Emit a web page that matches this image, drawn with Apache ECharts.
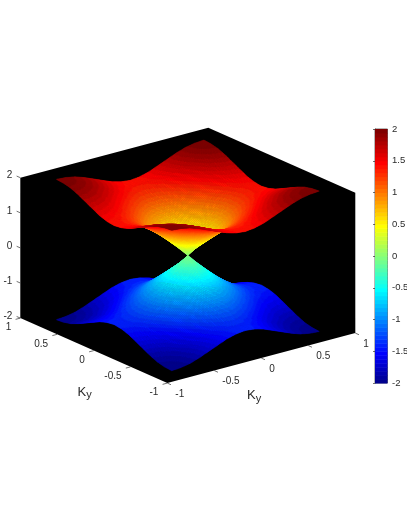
<!DOCTYPE html>
<html><head><meta charset="utf-8">
<style>html,body{margin:0;padding:0;background:#fff}#c{width:407px;height:527px;filter:blur(0.35px)}</style>
<script src="https://cdn.jsdelivr.net/npm/echarts@6/dist/echarts.min.js"></script>
</head><body><div id="c"></div>
<script>
const kGrid = [-0.785,-0.687,-0.589,-0.491,-0.393,-0.295,-0.196,-0.098,0,0.098,0.196,0.295,0.393,0.491,0.589,0.687,0.785];
const upperBand = [
[2,1.98,1.93,1.84,1.73,1.62,1.51,1.44,1.41,1.44,1.51,1.62,1.73,1.84,1.93,1.98,2],
[1.98,1.96,1.91,1.82,1.71,1.59,1.49,1.41,1.39,1.41,1.49,1.59,1.71,1.82,1.91,1.96,1.98],
[1.93,1.91,1.85,1.76,1.65,1.53,1.41,1.34,1.31,1.34,1.41,1.53,1.65,1.76,1.85,1.91,1.93],
[1.84,1.82,1.76,1.66,1.54,1.41,1.29,1.21,1.18,1.21,1.29,1.41,1.54,1.66,1.76,1.82,1.84],
[1.73,1.71,1.65,1.54,1.41,1.27,1.14,1.04,1,1.04,1.14,1.27,1.41,1.54,1.65,1.71,1.73],
[1.62,1.59,1.53,1.41,1.27,1.11,0.95,0.83,0.79,0.83,0.95,1.11,1.27,1.41,1.53,1.59,1.62],
[1.51,1.49,1.41,1.29,1.14,0.95,0.77,0.61,0.54,0.61,0.77,0.95,1.14,1.29,1.41,1.49,1.51],
[1.44,1.41,1.34,1.21,1.04,0.83,0.61,0.39,0.28,0.39,0.61,0.83,1.04,1.21,1.34,1.41,1.44],
[1.41,1.39,1.31,1.18,1,0.79,0.54,0.28,0,0.28,0.54,0.79,1,1.18,1.31,1.39,1.41],
[1.44,1.41,1.34,1.21,1.04,0.83,0.61,0.39,0.28,0.39,0.61,0.83,1.04,1.21,1.34,1.41,1.44],
[1.51,1.49,1.41,1.29,1.14,0.95,0.77,0.61,0.54,0.61,0.77,0.95,1.14,1.29,1.41,1.49,1.51],
[1.62,1.59,1.53,1.41,1.27,1.11,0.95,0.83,0.79,0.83,0.95,1.11,1.27,1.41,1.53,1.59,1.62],
[1.73,1.71,1.65,1.54,1.41,1.27,1.14,1.04,1,1.04,1.14,1.27,1.41,1.54,1.65,1.71,1.73],
[1.84,1.82,1.76,1.66,1.54,1.41,1.29,1.21,1.18,1.21,1.29,1.41,1.54,1.66,1.76,1.82,1.84],
[1.93,1.91,1.85,1.76,1.65,1.53,1.41,1.34,1.31,1.34,1.41,1.53,1.65,1.76,1.85,1.91,1.93],
[1.98,1.96,1.91,1.82,1.71,1.59,1.49,1.41,1.39,1.41,1.49,1.59,1.71,1.82,1.91,1.96,1.98],
[2,1.98,1.93,1.84,1.73,1.62,1.51,1.44,1.41,1.44,1.51,1.62,1.73,1.84,1.93,1.98,2]
];
const lowerBand = [
[-2,-1.98,-1.93,-1.84,-1.73,-1.62,-1.51,-1.44,-1.41,-1.44,-1.51,-1.62,-1.73,-1.84,-1.93,-1.98,-2],
[-1.98,-1.96,-1.91,-1.82,-1.71,-1.59,-1.49,-1.41,-1.39,-1.41,-1.49,-1.59,-1.71,-1.82,-1.91,-1.96,-1.98],
[-1.93,-1.91,-1.85,-1.76,-1.65,-1.53,-1.41,-1.34,-1.31,-1.34,-1.41,-1.53,-1.65,-1.76,-1.85,-1.91,-1.93],
[-1.84,-1.82,-1.76,-1.66,-1.54,-1.41,-1.29,-1.21,-1.18,-1.21,-1.29,-1.41,-1.54,-1.66,-1.76,-1.82,-1.84],
[-1.73,-1.71,-1.65,-1.54,-1.41,-1.27,-1.14,-1.04,-1,-1.04,-1.14,-1.27,-1.41,-1.54,-1.65,-1.71,-1.73],
[-1.62,-1.59,-1.53,-1.41,-1.27,-1.11,-0.95,-0.83,-0.79,-0.83,-0.95,-1.11,-1.27,-1.41,-1.53,-1.59,-1.62],
[-1.51,-1.49,-1.41,-1.29,-1.14,-0.95,-0.77,-0.61,-0.54,-0.61,-0.77,-0.95,-1.14,-1.29,-1.41,-1.49,-1.51],
[-1.44,-1.41,-1.34,-1.21,-1.04,-0.83,-0.61,-0.39,-0.28,-0.39,-0.61,-0.83,-1.04,-1.21,-1.34,-1.41,-1.44],
[-1.41,-1.39,-1.31,-1.18,-1,-0.79,-0.54,-0.28,0,-0.28,-0.54,-0.79,-1,-1.18,-1.31,-1.39,-1.41],
[-1.44,-1.41,-1.34,-1.21,-1.04,-0.83,-0.61,-0.39,-0.28,-0.39,-0.61,-0.83,-1.04,-1.21,-1.34,-1.41,-1.44],
[-1.51,-1.49,-1.41,-1.29,-1.14,-0.95,-0.77,-0.61,-0.54,-0.61,-0.77,-0.95,-1.14,-1.29,-1.41,-1.49,-1.51],
[-1.62,-1.59,-1.53,-1.41,-1.27,-1.11,-0.95,-0.83,-0.79,-0.83,-0.95,-1.11,-1.27,-1.41,-1.53,-1.59,-1.62],
[-1.73,-1.71,-1.65,-1.54,-1.41,-1.27,-1.14,-1.04,-1,-1.04,-1.14,-1.27,-1.41,-1.54,-1.65,-1.71,-1.73],
[-1.84,-1.82,-1.76,-1.66,-1.54,-1.41,-1.29,-1.21,-1.18,-1.21,-1.29,-1.41,-1.54,-1.66,-1.76,-1.82,-1.84],
[-1.93,-1.91,-1.85,-1.76,-1.65,-1.53,-1.41,-1.34,-1.31,-1.34,-1.41,-1.53,-1.65,-1.76,-1.85,-1.91,-1.93],
[-1.98,-1.96,-1.91,-1.82,-1.71,-1.59,-1.49,-1.41,-1.39,-1.41,-1.49,-1.59,-1.71,-1.82,-1.91,-1.96,-1.98],
[-2,-1.98,-1.93,-1.84,-1.73,-1.62,-1.51,-1.44,-1.41,-1.44,-1.51,-1.62,-1.73,-1.84,-1.93,-1.98,-2]
];
const kxTicks = [-1,-0.5,0,0.5,1];
const kyTicks = [1,0.5,0,-0.5,-1];
const energyTicks = [2,1,0,-1,-2];
const axisTitles = ['Ky','Ky'];

// view of the 3D box, mapped on to the hidden page-sized cartesian axes
const view = {cx:187.8, cy:325.6, xx:94, xy:-25, yx:-73.5, yy:-32.5, zy:-35.1};
const project = (x,y,e) => [view.cx+view.xx*x+view.yx*y, view.cy+view.xy*x+view.yy*y+view.zy*(e+2)];
const titleAt = [[77.5,385.5],[247,389]];

function jet(e){
  const i = Math.max(0,Math.min(63,Math.floor((e+2)/4*64)));
  const t=(i+1)/64, c=v=>Math.round(255*Math.max(0,Math.min(1,v)));
  return 'rgb('+c(Math.min(4*t-1.5,-4*t+4.5))+','+c(Math.min(4*t-0.5,-4*t+3.5))+','+c(Math.min(4*t+0.5,-4*t+2.5))+')';
}
function cells(band){
  const out=[];
  for(let r=0;r<band.length-1;r++) for(let c=0;c<kGrid.length-1;c++)
    out.push([kGrid[c],kGrid[c+1],kGrid[r],kGrid[r+1],band[r][c],band[r][c+1],band[r+1][c],band[r+1][c+1]]);
  const depth=d=>-view.yx*(d[0]+d[1])+view.xx*(d[2]+d[3]);
  return out.sort((a,b)=>depth(b)-depth(a));
}
const SUB=8;
function renderCell(params,api){
  const x0=api.value(0),x1=api.value(1),y0=api.value(2),y1=api.value(3);
  const a=api.value(4),b=api.value(5),c=api.value(6),d=api.value(7);
  const E=(u,v)=>a*(1-u)*(1-v)+b*u*(1-v)+c*(1-u)*v+d*u*v;
  const P=(u,v)=>api.coord(project(x0+(x1-x0)*u,y0+(y1-y0)*v,E(u,v)));
  const children=[];
  for(let j=SUB-1;j>=0;j--) for(let i=SUB-1;i>=0;i--){
    const u0=i/SUB,u1=(i+1)/SUB,v0=j/SUB,v1=(j+1)/SUB;
    const col=jet(E((u0+u1)/2,(v0+v1)/2));
    children.push({type:'polygon',shape:{points:[P(u0,v0),P(u1,v0),P(u1,v1),P(u0,v1)]},
      style:{fill:col,stroke:col,lineWidth:0.4},silent:true});
  }
  return {type:'group',children};
}
const lim=[-1,1], font='10px "Liberation Sans", Arial, sans-serif', ink='#2a2a2a';
function text(t,p,dx,dy,align){
  return {type:'text',silent:true,style:{text:String(t),x:p[0]+dx,y:p[1]+dy,fill:ink,font,align,verticalAlign:'middle'}};
}
function line(p,q){
  return {type:'line',silent:true,shape:{x1:p[0],y1:p[1],x2:q[0],y2:q[1]},style:{stroke:'#333',lineWidth:0.7}};
}
const boxOutline=[[lim[0],lim[1],2],[lim[1],lim[1],2],[lim[1],lim[0],2],[lim[1],lim[0],-2],[lim[0],lim[0],-2],[lim[0],lim[1],-2]];

const option={
  animation:false,
  grid:[{left:0,top:0,width:407,height:527,outerBoundsMode:'none'},{left:375,top:129,width:12.5,height:254,outerBoundsMode:'none',show:true,borderColor:'#333',borderWidth:0.7,backgroundColor:'transparent'}],
  xAxis:[{gridIndex:0,type:'value',min:0,max:407,show:false},{gridIndex:1,type:'value',min:0,max:1,show:false}],
  yAxis:[{gridIndex:0,type:'value',min:0,max:527,inverse:true,show:false},
    {gridIndex:1,type:'value',min:-2,max:2,interval:0.5,position:'right',
     axisLine:{show:true,lineStyle:{color:'#333',width:0.7}},
     axisTick:{show:true,inside:true,length:2,lineStyle:{color:'#333',width:0.7}},
     axisLabel:{color:ink,fontSize:9.5,fontFamily:'"Liberation Sans", Arial, sans-serif',margin:4.5,hideOverlap:false},
     splitLine:{show:false}}],
  series:[
    {type:'custom',name:'box',xAxisIndex:0,yAxisIndex:0,clip:false,silent:true,data:[0],
     renderItem:(p,api)=>({type:'polygon',silent:true,shape:{points:boxOutline.map(b=>api.coord(project(b[0],b[1],b[2])))},style:{fill:'#000'}})},
    {type:'custom',name:'valence band',xAxisIndex:0,yAxisIndex:0,clip:false,silent:true,data:cells(lowerBand),renderItem:renderCell},
    {type:'custom',name:'conduction band',xAxisIndex:0,yAxisIndex:0,clip:false,silent:true,data:cells(upperBand),renderItem:renderCell},
    {type:'custom',name:'ky ticks',xAxisIndex:0,yAxisIndex:0,clip:false,silent:true,data:kyTicks,
     renderItem:(p,api)=>{const v=api.value(0),a=api.coord(project(-1,v,-2)),b=api.coord(project(-1.05,v,-2));
       return {type:'group',children:[line(a,b),text(v,a,-9,9.5,'right')]};}},
    {type:'custom',name:'kx ticks',xAxisIndex:0,yAxisIndex:0,clip:false,silent:true,data:kxTicks,
     renderItem:(p,api)=>{const v=api.value(0),a=api.coord(project(v,-1,-2)),b=api.coord(project(v,-1.05,-2));
       return {type:'group',children:[line(a,b),text(v,a,8,11,'left')]};}},
    {type:'custom',name:'energy ticks',xAxisIndex:0,yAxisIndex:0,clip:false,silent:true,data:energyTicks,
     renderItem:(p,api)=>{const v=api.value(0),a=api.coord(project(-1,1,v)),b=api.coord(project(-1,1.05,v));
       return {type:'group',children:[line(a,b),text(v,a,-8,-2,'right')]};}},
    {type:'custom',name:'axis titles',xAxisIndex:0,yAxisIndex:0,clip:false,silent:true,data:[0,1],
     renderItem:(p,api)=>{
       const i=api.value(0),t=axisTitles[i],at=titleAt[i];
       return {type:'group',children:[
         {type:'text',silent:true,style:{text:'{k|'+t[0]+'}{s|'+t[1]+'}',x:at[0],y:at[1],fill:ink,
           rich:{k:{fontSize:13,fontFamily:'"Liberation Sans", Arial, sans-serif',fill:ink,lineHeight:15,verticalAlign:'top'},
                 s:{fontSize:11,fontFamily:'"Liberation Sans", Arial, sans-serif',fill:ink,lineHeight:15,verticalAlign:'bottom',padding:[8,0,0,0]}}}}]};}},
    {type:'custom',name:'colorbar',xAxisIndex:1,yAxisIndex:1,silent:true,z:1,data:Array.from({length:64},(_,i)=>[i]),
     renderItem:(p,api)=>{const i=api.value(0),lo=-2+i/16,hi=lo+1/16,a=api.coord([0,hi]),b=api.coord([1,lo]);
       return {type:'rect',silent:true,shape:{x:a[0],y:a[1],width:b[0]-a[0],height:b[1]-a[1]+0.5},style:{fill:jet(lo+0.01)}};}}
  ]
};
echarts.init(document.getElementById('c'),null,{renderer:'canvas'}).setOption(option);
</script></body></html>
